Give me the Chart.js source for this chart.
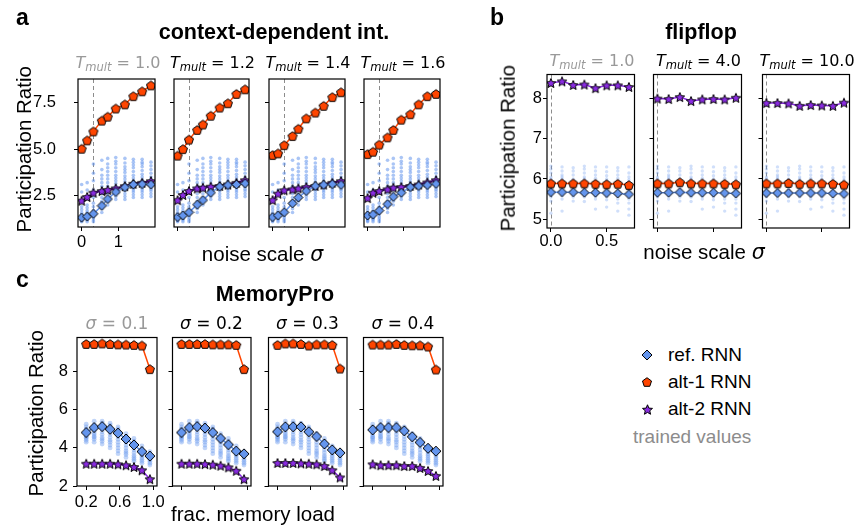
<!DOCTYPE html>
<html>
<head>
<meta charset="utf-8">
<script src="https://cdn.jsdelivr.net/npm/chart.js@4.4.1/dist/chart.umd.min.js"></script>
<style>
  body { margin: 0; background: #fff; width: 859px; height: 529px; position: relative; overflow: hidden; }
  .txt { position: absolute; white-space: nowrap; font-family: "Liberation Sans", Arial, sans-serif; color: #000; }
  .sub { font-size: 0.72em; position: relative; top: 0.28em; }
</style>
</head>
<body>
<script>
const FONT = '"Liberation Sans", Arial, sans-serif';
const MATH = '"DejaVu Sans", sans-serif';

// ---------- panel a: context-dependent int. ----------
const sigmaA = [0, 0.15, 0.32, 0.55, 0.71, 0.93, 1.18, 1.41, 1.65, 1.89];
const tmultA = ['1.0', '1.2', '1.4', '1.6'];
const refA = [
  [1.32, 1.38, 1.53, 1.96, 2.32, 2.70, 2.95, 3.10, 3.12, 3.10],
  [1.35, 1.44, 1.61, 2.02, 2.26, 2.66, 2.98, 3.07, 3.10, 3.16],
  [1.35, 1.44, 1.61, 2.09, 2.40, 2.75, 3.02, 3.08, 3.12, 3.08],
  [1.44, 1.49, 1.70, 2.05, 2.44, 2.66, 2.96, 3.02, 3.07, 3.14]
];
const alt1A = [
  [5.02, 5.47, 5.95, 6.53, 6.74, 7.18, 7.40, 7.84, 8.10, 8.42],
  [4.65, 5.00, 5.51, 6.03, 6.32, 6.79, 7.23, 7.46, 7.96, 8.21],
  [4.68, 4.77, 5.21, 5.70, 6.09, 6.65, 6.96, 7.32, 7.79, 8.05],
  [4.73, 4.86, 5.24, 5.63, 6.03, 6.58, 6.87, 7.40, 7.84, 7.96]
];
const alt2A = [
  [2.23, 2.43, 2.66, 2.75, 2.81, 2.89, 3.01, 3.14, 3.19, 3.28],
  [2.26, 2.54, 2.75, 2.89, 2.93, 2.98, 3.02, 3.10, 3.19, 3.33],
  [2.26, 2.61, 2.79, 2.84, 2.89, 2.96, 3.02, 3.10, 3.19, 3.28],
  [2.37, 2.66, 2.75, 2.84, 2.93, 2.96, 3.02, 3.10, 3.21, 3.33]
];
// individual networks (one column per sigma)
const cloudA = [
  [1.1, 1.15, 1.2, 1.25, 1.3, 1.35, 1.4, 1.5, 1.6, 1.75, 1.9, 2.7, 3.1],
  [1.1, 1.2, 1.25, 1.3, 1.35, 1.4, 1.5, 1.6, 1.7, 1.85, 2.0, 2.8, 3.2],
  [1.1, 1.2, 1.3, 1.4, 1.55, 1.7, 1.9, 2.1, 2.4, 2.8, 3.3, 3.7, 4.2],
  [1.6, 1.8, 2.0, 2.2, 2.4, 2.6, 2.8, 3.0, 3.2, 3.4, 3.6, 3.9, 4.4],
  [2.0, 2.2, 2.4, 2.6, 2.8, 3.0, 3.2, 3.4, 3.6, 3.8, 4.0, 4.2, 4.5],
  [2.3, 2.45, 2.6, 2.75, 2.9, 3.0, 3.15, 3.3, 3.45, 3.6, 3.8, 4.0, 4.2, 4.35, 4.55],
  [2.3, 2.45, 2.6, 2.75, 2.85, 2.95, 3.1, 3.25, 3.4, 3.55, 3.75, 3.9, 4.05, 4.25, 4.5],
  [2.4, 2.55, 2.7, 2.8, 2.9, 3.0, 3.15, 3.3, 3.45, 3.6, 3.8, 4.0, 4.15, 4.3, 4.45],
  [2.4, 2.55, 2.7, 2.8, 2.9, 3.05, 3.2, 3.35, 3.5, 3.65, 3.85, 4.05, 4.2, 4.3, 4.45],
  [2.45, 2.6, 2.75, 2.85, 2.95, 3.05, 3.2, 3.35, 3.5, 3.7, 3.9, 4.1, 4.3]
];
const trainedSigmaA = 0.32;
const xTicksA = [0, 1], xTickLabelsA = ['0', '1'];
const yTicksA = [2.5, 5.0, 7.5], yTickLabelsA = ['2.5', '5.0', '7.5'];

// ---------- panel b: flipflop ----------
const sigmaB = [0, 0.1, 0.2, 0.3, 0.4, 0.5, 0.6, 0.7];
const tmultB = ['1.0', '4.0', '10.0'];
const refB = [
  [5.67, 5.67, 5.67, 5.66, 5.66, 5.65, 5.64, 5.62],
  [5.66, 5.66, 5.67, 5.66, 5.66, 5.66, 5.65, 5.64],
  [5.65, 5.65, 5.65, 5.65, 5.65, 5.65, 5.64, 5.63]
];
const alt1B = [
  [5.89, 5.89, 5.89, 5.89, 5.88, 5.87, 5.88, 5.85],
  [5.89, 5.89, 5.92, 5.89, 5.89, 5.89, 5.88, 5.87],
  [5.89, 5.89, 5.90, 5.88, 5.89, 5.89, 5.88, 5.86]
];
const alt2B = [
  [8.39, 8.43, 8.34, 8.35, 8.26, 8.33, 8.33, 8.29],
  [8.00, 7.99, 8.04, 7.94, 7.98, 7.99, 7.98, 8.02],
  [7.89, 7.89, 7.88, 7.82, 7.84, 7.83, 7.82, 7.90]
];
const cloudB = [
  [5.15, 5.45, 5.55, 5.6, 5.65, 5.7, 5.75, 5.8, 5.85, 5.95, 6.0, 6.05, 6.15, 6.25, 6.32],
  [5.2, 5.5, 5.58, 5.63, 5.7, 5.75, 5.8, 5.85, 5.95, 6.0, 6.05, 6.1, 6.2, 6.3],
  [5.45, 5.55, 5.6, 5.65, 5.7, 5.75, 5.8, 5.85, 5.95, 6.0, 6.1, 6.2, 6.28],
  [5.44, 5.55, 5.6, 5.66, 5.72, 5.78, 5.85, 5.95, 6.0, 6.05, 6.15, 6.25, 6.32],
  [5.25, 5.5, 5.57, 5.62, 5.68, 5.74, 5.8, 5.86, 5.95, 6.02, 6.1, 6.2, 6.3],
  [5.3, 5.48, 5.55, 5.6, 5.66, 5.72, 5.78, 5.85, 5.95, 6.0, 6.08, 6.18, 6.3],
  [5.2, 5.4, 5.5, 5.58, 5.64, 5.7, 5.76, 5.84, 5.95, 6.02, 6.1, 6.2, 6.28],
  [5.1, 5.25, 5.4, 5.5, 5.58, 5.64, 5.72, 5.8, 5.9, 5.98, 6.05, 6.15, 6.3]
];
const trainedSigmaB = 0;
const xTicksB = [0, 0.5], xTickLabelsB = ['0.0', '0.5'];
const yTicksB = [5, 6, 7, 8], yTickLabelsB = ['5', '6', '7', '8'];

// ---------- panel c: MemoryPro ----------
const loadC = [0.2, 0.295, 0.39, 0.485, 0.58, 0.675, 0.77, 0.865, 0.96];
const sigmaC = ['0.1', '0.2', '0.3', '0.4'];
const refC = [
  [4.81, 5.07, 5.12, 4.98, 4.78, 4.47, 4.16, 3.81, 3.57],
  [4.81, 5.07, 5.12, 5.04, 4.81, 4.50, 4.17, 3.83, 3.69],
  [4.85, 5.11, 5.11, 5.11, 4.85, 4.60, 4.21, 3.90, 3.74],
  [4.95, 5.07, 5.07, 5.07, 4.90, 4.59, 4.29, 3.98, 3.83]
];
const alt1C = [
  [9.46, 9.46, 9.49, 9.46, 9.44, 9.43, 9.41, 9.38, 8.14],
  [9.46, 9.46, 9.46, 9.46, 9.44, 9.44, 9.44, 9.41, 8.14],
  [9.41, 9.49, 9.49, 9.46, 9.38, 9.44, 9.44, 9.41, 8.17],
  [9.43, 9.43, 9.43, 9.46, 9.41, 9.39, 9.39, 9.33, 8.12]
];
const alt2C = [
  [3.17, 3.17, 3.17, 3.17, 3.14, 3.09, 3.00, 2.83, 2.36],
  [3.17, 3.17, 3.17, 3.15, 3.12, 3.07, 2.98, 2.80, 2.36],
  [3.21, 3.21, 3.21, 3.19, 3.17, 3.14, 3.05, 2.83, 2.45],
  [3.14, 3.09, 3.09, 3.09, 3.05, 3.05, 2.95, 2.79, 2.53]
];
const cloudC = [
  [4.3, 4.4, 4.5, 4.55, 4.6, 4.7, 4.8, 4.9, 5.0, 5.1, 5.25],
  [4.3, 4.45, 4.55, 4.6, 4.7, 4.8, 4.9, 5.0, 5.1, 5.2, 5.4],
  [4.2, 4.35, 4.45, 4.55, 4.7, 4.85, 5.0, 5.1, 5.2, 5.3, 5.4],
  [4.0, 4.15, 4.3, 4.4, 4.55, 4.7, 4.85, 5.0, 5.1, 5.2, 5.3],
  [3.7, 3.85, 4.0, 4.15, 4.3, 4.45, 4.6, 4.75, 4.9, 5.0, 5.1],
  [3.5, 3.65, 3.75, 3.85, 4.0, 4.15, 4.3, 4.45, 4.6, 4.75],
  [3.3, 3.4, 3.5, 3.6, 3.75, 3.9, 4.05, 4.2, 4.35, 4.5],
  [3.2, 3.3, 3.4, 3.5, 3.6, 3.7, 3.8, 3.95, 4.1],
  [3.1, 3.2, 3.3, 3.4, 3.5, 3.6, 3.7, 3.8]
];
const xTicksC = [0.2, 0.6, 1.0], xTickLabelsC = ['0.2', '0.6', '1.0'];
const yTicksC = [2, 4, 6, 8], yTickLabelsC = ['2', '4', '6', '8'];

const BLUE = '#6495ed', ORANGE = '#ff4500', PURPLE = '#8a2be2';
const GRAY = '#999999';

// ---------- marker images ----------
function marker(kind, size, fill) {
  const c = document.createElement('canvas');
  const s = Math.ceil(size) + 2;
  c.width = s; c.height = s;
  const g = c.getContext('2d');
  const m = s / 2, r = size / 2;
  g.beginPath();
  if (kind === 'pentagon') {
    for (let i = 0; i < 5; i++) {
      const a = -Math.PI / 2 + i * 2 * Math.PI / 5;
      g.lineTo(m + r * Math.cos(a), m + r * Math.sin(a) + r * 0.1);
    }
  } else if (kind === 'star') {
    for (let i = 0; i < 10; i++) {
      const a = -Math.PI / 2 + i * Math.PI / 5;
      const rr = i % 2 ? r * 0.45 : r;
      g.lineTo(m + rr * Math.cos(a), m + rr * Math.sin(a) + r * 0.1);
    }
  } else {
    g.moveTo(m, m - r); g.lineTo(m + r, m); g.lineTo(m, m + r); g.lineTo(m - r, m);
  }
  g.closePath();
  g.fillStyle = fill; g.fill();
  g.lineWidth = 1; g.strokeStyle = '#000'; g.stroke();
  return c;
}

// ---------- text helper (y = baseline) ----------
function text(x, y, html, size, opt = {}) {
  const d = document.createElement('div');
  d.className = 'txt';
  d.innerHTML = html;
  d.style.fontSize = size + 'px';
  d.style.lineHeight = size + 'px';
  if (opt.family) d.style.fontFamily = opt.family;
  if (opt.bold) d.style.fontWeight = 'bold';
  if (opt.color) d.style.color = opt.color;
  d.style.top = (y - 0.846 * size) + 'px';
  d.style.left = x + 'px';
  if (opt.rotate) {
    d.style.top = (y - size / 2) + 'px';
    d.style.transform = 'translate(-50%, 0) rotate(-90deg)';
  } else if (opt.align !== 'left') {
    d.style.transform = 'translateX(-50%)';
  }
  document.body.appendChild(d);
}

// ---------- frame + trained-value line ----------
const framePlugin = {
  id: 'frame',
  beforeDatasetsDraw(chart, args, opts) {
    if (opts.trained === null || opts.trained === undefined) return;
    const { ctx, chartArea: a, scales: { x } } = chart;
    const px = Math.round(x.getPixelForValue(opts.trained)) + 0.5;
    ctx.save();
    ctx.strokeStyle = '#8c8c8c'; ctx.lineWidth = 1; ctx.setLineDash([4, 3]);
    ctx.beginPath(); ctx.moveTo(px, a.top); ctx.lineTo(px, a.bottom); ctx.stroke();
    ctx.restore();
  },
  afterDraw(chart) {
    const { ctx, chartArea: a } = chart;
    ctx.save();
    ctx.strokeStyle = '#000'; ctx.lineWidth = 1.2;
    ctx.strokeRect(a.left, a.top, a.right - a.left, a.bottom - a.top);
    ctx.restore();
  }
};

function series(xs, ys, color, img, lw, order) {
  return {
    data: xs.map((x, i) => ({ x, y: ys[i] })),
    showLine: true, borderColor: color, borderWidth: lw, backgroundColor: color,
    pointStyle: img, pointRadius: 5, pointHoverRadius: 5, tension: 0, order
  };
}

function cloud(xs, cols, color, r) {
  return {
    data: xs.flatMap((x, i) => cols[i].map(y => ({ x, y }))),
    showLine: false, backgroundColor: color, borderWidth: 0,
    pointRadius: r, pointHoverRadius: r, order: 10
  };
}

function addChart(c) {
  const W = c.R - c.L + c.padL + c.padR, H = c.B - c.T + c.padT + c.padB;
  const cv = document.createElement('canvas');
  cv.width = W; cv.height = H;
  cv.style.cssText = `position:absolute;left:${c.L - c.padL}px;top:${c.T - c.padT}px;width:${W}px;height:${H}px;`;
  document.body.appendChild(cv);
  const grid = { drawOnChartArea: false, drawTicks: true, tickLength: 4, color: '#000', lineWidth: 1 };
  new Chart(cv, {
    type: 'scatter',
    data: { datasets: c.datasets },
    options: {
      responsive: false, animation: false, events: [],
      layout: { padding: { left: 0, top: c.padT, right: c.padR, bottom: 0 } },
      plugins: { legend: { display: false }, tooltip: { enabled: false }, frame: { trained: c.trained } },
      scales: {
        x: {
          type: 'linear', min: c.xMin, max: c.xMax,
          afterBuildTicks: ax => { ax.ticks = c.xTicks.map(v => ({ value: v })); },
          ticks: { display: c.first, color: '#000', font: { family: FONT, size: 16.5 }, padding: c.xPad,
                   maxRotation: 0, autoSkip: false, callback: (v, i) => c.xLabels[i] },
          grid, border: { display: false },
          afterFit: s => { s.height = c.padB; s.paddingLeft = 0; s.paddingRight = 0; }
        },
        y: {
          type: 'linear', min: c.yMin, max: c.yMax,
          afterBuildTicks: ax => { ax.ticks = c.yTicks.map(v => ({ value: v })); },
          ticks: { display: c.first, color: '#000', font: { family: FONT, size: 16.5 }, padding: c.yPad,
                   autoSkip: false, callback: (v, i) => c.yLabels[i] },
          grid, border: { display: false },
          afterFit: s => { s.width = c.padL; s.paddingTop = 0; s.paddingBottom = 0; }
        }
      }
    },
    plugins: [framePlugin]
  });
}

function mathT(v) { return `<i>T</i><span class="sub"><i>mult</i></span> = ${v}`; }

// ---------- panel a ----------
const aL = [78, 173, 268, 363], aR = [158, 252, 348, 443];
const mkA = { d: marker('diamond', 9, BLUE), p: marker('pentagon', 9.5, ORANGE), s: marker('star', 10, PURPLE) };
tmultA.forEach((tm, k) => {
  addChart({
    L: aL[k], R: aR[k], T: 76, B: 227, padL: k === 0 ? 50 : 6, padR: 4, padT: 4, padB: 26,
    first: k === 0, xPad: 2, yPad: 18,
    xMin: -0.1, xMax: 2.0, yMin: 0.82, yMax: 8.76,
    xTicks: xTicksA, xLabels: xTickLabelsA, yTicks: yTicksA, yLabels: yTickLabelsA,
    trained: trainedSigmaA,
    datasets: [
      series(sigmaA, alt1A[k], ORANGE, mkA.p, 1.5, 1),
      series(sigmaA, refA[k], BLUE, mkA.d, 1.5, 2),
      series(sigmaA, alt2A[k], PURPLE, mkA.s, 2, 3),
      cloud(sigmaA, cloudA, 'rgba(100,149,237,0.55)', 1.8)
    ]
  });
  text((aL[k] + aR[k]) / 2, 68.3, mathT(tm), 16, { family: MATH, color: k === 0 ? GRAY : '#000' });
});

// ---------- panel b ----------
const bL = [547, 653, 762], bR = [637, 744, 852];
const mkB = { d: marker('diamond', 9, BLUE), p: marker('pentagon', 9.5, ORANGE), s: marker('star', 10, PURPLE) };
tmultB.forEach((tm, k) => {
  addChart({
    L: bL[k], R: bR[k], T: 72, B: 228, padL: k === 0 ? 28 : 6, padR: 4, padT: 4, padB: 24,
    first: k === 0, xPad: 0, yPad: 1,
    xMin: -0.035, xMax: 0.75, yMin: 4.78, yMax: 8.6,
    xTicks: xTicksB, xLabels: xTickLabelsB, yTicks: yTicksB, yLabels: yTickLabelsB,
    trained: trainedSigmaB,
    datasets: [
      series(sigmaB, alt1B[k], ORANGE, mkB.p, 1.5, 1),
      series(sigmaB, refB[k], BLUE, mkB.d, 1.5, 2),
      series(sigmaB, alt2B[k], PURPLE, mkB.s, 1.5, 3),
      cloud(sigmaB, cloudB, 'rgba(100,149,237,0.3)', 1.7)
    ]
  });
  text((bL[k] + bR[k]) / 2, 66.7, mathT(tm), 16, { family: MATH, color: k === 0 ? GRAY : '#000' });
});

// ---------- panel c ----------
const cL = [77, 172, 268, 363], cR = [157, 251, 347, 443];
const mkC = { d: marker('diamond', 10, BLUE), p: marker('pentagon', 9.5, ORANGE), s: marker('star', 10, PURPLE) };
sigmaC.forEach((sg, k) => {
  addChart({
    L: cL[k], R: cR[k], T: 335, B: 486, padL: k === 0 ? 26 : 6, padR: 10, padT: 4, padB: 26,
    first: k === 0, xPad: 3, yPad: 5,
    xMin: 0.09, xMax: 1.045, yMin: 2.0, yMax: 9.8,
    xTicks: xTicksC, xLabels: xTickLabelsC, yTicks: yTicksC, yLabels: yTickLabelsC,
    trained: null,
    datasets: [
      series(loadC, alt1C[k], ORANGE, mkC.p, 1.5, 1),
      series(loadC, refC[k], BLUE, mkC.d, 1.5, 2),
      series(loadC, alt2C[k], PURPLE, mkC.s, 1.5, 3),
      cloud(loadC, cloudC, 'rgba(100,149,237,0.4)', 2.4)
    ]
  });
  text((cL[k] + cR[k]) / 2, 329.3, `<i>σ</i> = ${sg}`, 17, { family: MATH, color: k === 0 ? GRAY : '#000' });
});

// ---------- labels ----------
text(16, 25, 'a', 23, { bold: true, align: 'left' });
text(490, 25, 'b', 23, { bold: true, align: 'left' });
text(16, 287, 'c', 23, { bold: true, align: 'left' });

text(274, 40, 'context-dependent int.', 21.5, { bold: true });
text(701, 40, 'flipflop', 21.5, { bold: true });
text(275, 301.7, 'MemoryPro', 21.5, { bold: true });

text(262.5, 261.5, 'noise scale <i style="font-family:DejaVu Sans">σ</i>', 20.5);
text(704, 259.5, 'noise scale <i style="font-family:DejaVu Sans">σ</i>', 20.5);
text(253, 521, 'frac. memory load', 20.5);

text(24.4, 149.5, 'Participation Ratio', 20.5, { rotate: true });
text(507.7, 148, 'Participation Ratio', 20.5, { rotate: true });
text(36, 413.3, 'Participation Ratio', 20.5, { rotate: true });

// ---------- legend ----------
const legendItems = [
  { label: 'ref. RNN', img: marker('diamond', 10, BLUE) },
  { label: 'alt-1 RNN', img: marker('pentagon', 9.5, ORANGE) },
  { label: 'alt-2 RNN', img: marker('star', 10.5, PURPLE) }
];
legendItems.forEach((it, i) => {
  const cy = 355 + i * 27;
  it.img.style.cssText = `position:absolute;left:${647 - it.img.width / 2}px;top:${cy - it.img.height / 2}px;`;
  document.body.appendChild(it.img);
  text(668, cy + 5.7, it.label, 19, { align: 'left' });
});
text(633, 442.7, 'trained values', 19, { align: 'left', color: '#8c8c8c' });
</script>
</body>
</html>
